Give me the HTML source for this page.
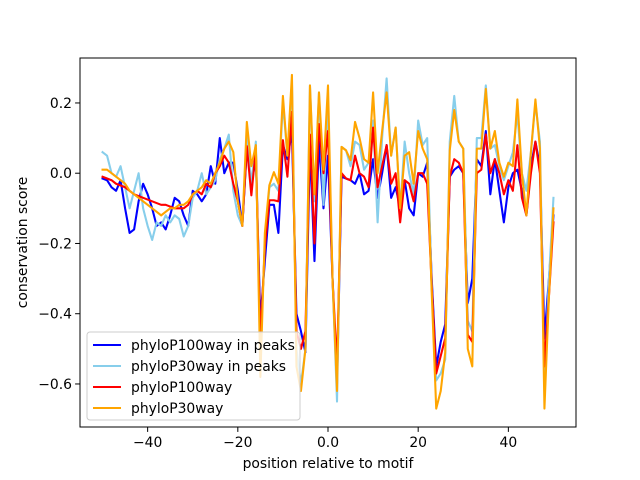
<!DOCTYPE html>
<html><head><meta charset="utf-8"><style>
body{margin:0;background:#fff}
svg{display:block;font-family:"DejaVu Sans","Liberation Sans",sans-serif}
</style></head><body>
<svg id="chart" width="640" height="480" xmlns="http://www.w3.org/2000/svg"></svg>
<script>
const blueVals=[-0.015,-0.02,-0.04,-0.05,-0.02,-0.1,-0.17,-0.16,-0.08,-0.03,-0.06,-0.1,-0.15,-0.14,-0.16,-0.12,-0.07,-0.08,-0.12,-0.15,-0.05,-0.06,-0.08,-0.06,0.02,-0.03,0.1,0.0,0.03,0.03,-0.05,
-0.15,0.07,-0.03,0.04,-0.42,-0.25,-0.09,-0.09,-0.17,0.08,
0.04,0.12,-0.4,-0.45,-0.51,0.08,-0.25,0.09,-0.1,0.05,
-0.3,-0.6,-0.01,-0.015,-0.02,-0.03,0.0,-0.06,-0.05,0.04,
-0.07,0.0,0.08,-0.07,-0.04,-0.1,-0.02,-0.1,-0.12,0.0,
-0.01,0.03,-0.3,-0.55,-0.48,-0.43,-0.01,0.01,0.02,0.0,
-0.37,-0.3,0.04,0.02,0.12,-0.06,0.04,-0.05,-0.14,-0.04,
0.0,0.01,-0.05,-0.12,0.02,0.09,0.02,-0.47,-0.3,-0.12];
const lightBlueVals=[0.06,0.05,0.0,-0.01,0.02,-0.04,-0.1,-0.05,0.0,-0.1,-0.15,-0.19,-0.14,-0.15,-0.12,-0.14,-0.12,-0.13,-0.18,-0.15,-0.07,-0.05,0.0,-0.06,-0.04,-0.02,0.04,0.07,0.11,-0.05,-0.12,
-0.15,0.1,-0.03,0.09,-0.5,-0.2,-0.04,-0.03,-0.05,0.2,
0.05,0.26,-0.5,-0.6,-0.5,0.25,-0.08,0.23,-0.09,0.2,
-0.3,-0.65,0.075,0.065,0.02,0.09,0.08,0.01,0.03,0.15,
-0.14,0.1,0.27,0.05,0.13,-0.1,0.09,0.0,-0.06,0.15,
0.08,0.1,-0.32,-0.59,-0.57,-0.53,0.09,0.22,0.09,0.07,
-0.42,-0.45,0.1,0.1,0.25,0.07,0.08,0.02,-0.02,0.02,
0.06,0.17,0.0,-0.05,0.06,0.2,0.09,-0.59,-0.3,-0.07];
const redVals=[-0.01,-0.015,-0.02,-0.03,-0.035,-0.04,-0.05,-0.06,-0.065,-0.07,-0.075,-0.08,-0.085,-0.09,-0.09,-0.095,-0.1,-0.1,-0.1,-0.09,-0.06,-0.05,-0.06,-0.03,-0.04,0.0,0.02,0.05,0.03,-0.03,-0.08,
-0.15,0.077,-0.063,0.07,-0.48,-0.21,-0.077,-0.077,-0.08,0.094,
-0.01,0.175,-0.45,-0.5,-0.45,0.11,-0.2,0.14,0.0,0.12,
-0.3,-0.55,0.0,-0.015,-0.02,0.05,0.0,-0.01,-0.04,0.13,
-0.04,0.02,0.08,-0.03,0.0,-0.14,-0.02,-0.03,-0.08,0.0,
0.0,-0.03,-0.32,-0.57,-0.52,-0.47,-0.01,0.04,0.03,0.0,
-0.46,-0.48,0.0,0.01,0.11,0.0,0.04,0.0,-0.06,-0.02,
-0.05,0.08,-0.07,-0.12,0.0,0.09,0.0,-0.55,-0.35,-0.14];
const orangeVals=[0.01,0.01,0.0,-0.01,-0.02,-0.03,-0.05,-0.06,-0.07,-0.08,-0.09,-0.1,-0.11,-0.12,-0.11,-0.1,-0.1,-0.09,-0.09,-0.08,-0.06,-0.05,-0.04,-0.02,-0.03,0.0,0.03,0.07,0.09,0.06,-0.08,
-0.15,0.146,0.02,0.08,-0.58,-0.17,-0.034,0.003,-0.03,0.22,
0.05,0.28,-0.55,-0.62,-0.5,0.25,-0.06,0.23,0.01,0.25,
-0.3,-0.62,0.075,0.065,0.037,0.146,0.1,0.04,0.03,0.23,
0.0,0.12,0.23,0.05,0.13,-0.1,0.05,0.06,-0.03,0.12,
0.07,0.04,-0.34,-0.67,-0.62,-0.51,0.065,0.18,0.09,0.07,
-0.5,-0.55,0.07,0.07,0.24,0.07,0.12,0.03,-0.01,0.03,
0.02,0.21,0.0,-0.12,0.06,0.21,0.07,-0.67,-0.35,-0.1];
const seriesNames=["phyloP100way in peaks","phyloP30way in peaks","phyloP100way","phyloP30way"];
const xTicks=[-40,-20,0,20,40];
const yTicks=[0.2,0.0,-0.2,-0.4,-0.6];

const NS="http://www.w3.org/2000/svg";
const svg=document.getElementById('chart');
const L=80,R=576,T=58,B=427;
const xMin=-55,xMax=55,yMin=-0.7225,yMax=0.328;
const sx=v=>L+(v-xMin)/(xMax-xMin)*(R-L);
const sy=v=>B-(v-yMin)/(yMax-yMin)*(B-T);
function mk(tag,attrs,parent){const e=document.createElementNS(NS,tag);for(const k in attrs)e.setAttribute(k,attrs[k]);(parent||svg).appendChild(e);return e;}
const fmt=v=>{let s=Number.isInteger(v)&&Math.abs(v)>=1?String(v):v.toFixed(1);return s.replace('-','\u2212');};

const series=[[blueVals,'#0000ff'],[lightBlueVals,'#87ceeb'],[redVals,'#ff0000'],[orangeVals,'#ffa500']];
series.forEach((s,si)=>{
  const pts=s[0].map((v,i)=>sx(i-50).toFixed(2)+','+sy(v).toFixed(2)).join(' ');
  const p=mk('polyline',{points:pts,fill:'none',stroke:s[1],'stroke-width':2.08,'stroke-linejoin':'round','stroke-linecap':'square'});
  
  
});
const frame=mk('rect',{x:L,y:T,width:R-L,height:B-T,fill:'none',stroke:'#000','stroke-width':1});


xTicks.forEach(t=>{
  const x=sx(t);
  const tk=mk('line',{x1:x,x2:x,y1:B,y2:B+4.9,stroke:'#000','stroke-width':1});
  
  
  const tx=mk('text',{x:x,y:B+20,'text-anchor':'middle','font-size':'13.9px',fill:'#000'});
  tx.textContent=fmt(t);
  
  
});
yTicks.forEach(t=>{
  const y=sy(t);
  const tk=mk('line',{x1:L-4.9,x2:L,y1:y,y2:y,stroke:'#000','stroke-width':1});
  
  
  const tx=mk('text',{x:L-8,y:y+5,'text-anchor':'end','font-size':'13.9px',fill:'#000'});
  tx.textContent=fmt(t);
  
  
});
const xl=mk('text',{x:(L+R)/2,y:468,'text-anchor':'middle','font-size':'13.9px',fill:'#000'});
xl.textContent='position relative to motif';


const yl=mk('text',{x:0,y:0,'text-anchor':'middle','font-size':'13.9px',fill:'#000',transform:'translate(27,'+((T+B)/2)+') rotate(-90)'});
yl.textContent='conservation score';


const lg=mk('g',{});


const lb=mk('rect',{x:87,y:332,width:213,height:88,rx:3,fill:'#fff','fill-opacity':0.8,stroke:'#ccc','stroke-width':1},lg);


seriesNames.forEach((n,i)=>{
  const y=345+i*21;
  const ln=mk('line',{x1:93,x2:121,y1:y,y2:y,stroke:series[i][1],'stroke-width':2.08},lg);
  
  
  const tx=mk('text',{x:131,y:y+5,'font-size':'13.9px',fill:'#000'},lg);
  tx.textContent=n;
  
  
});
</script>
</body></html>
